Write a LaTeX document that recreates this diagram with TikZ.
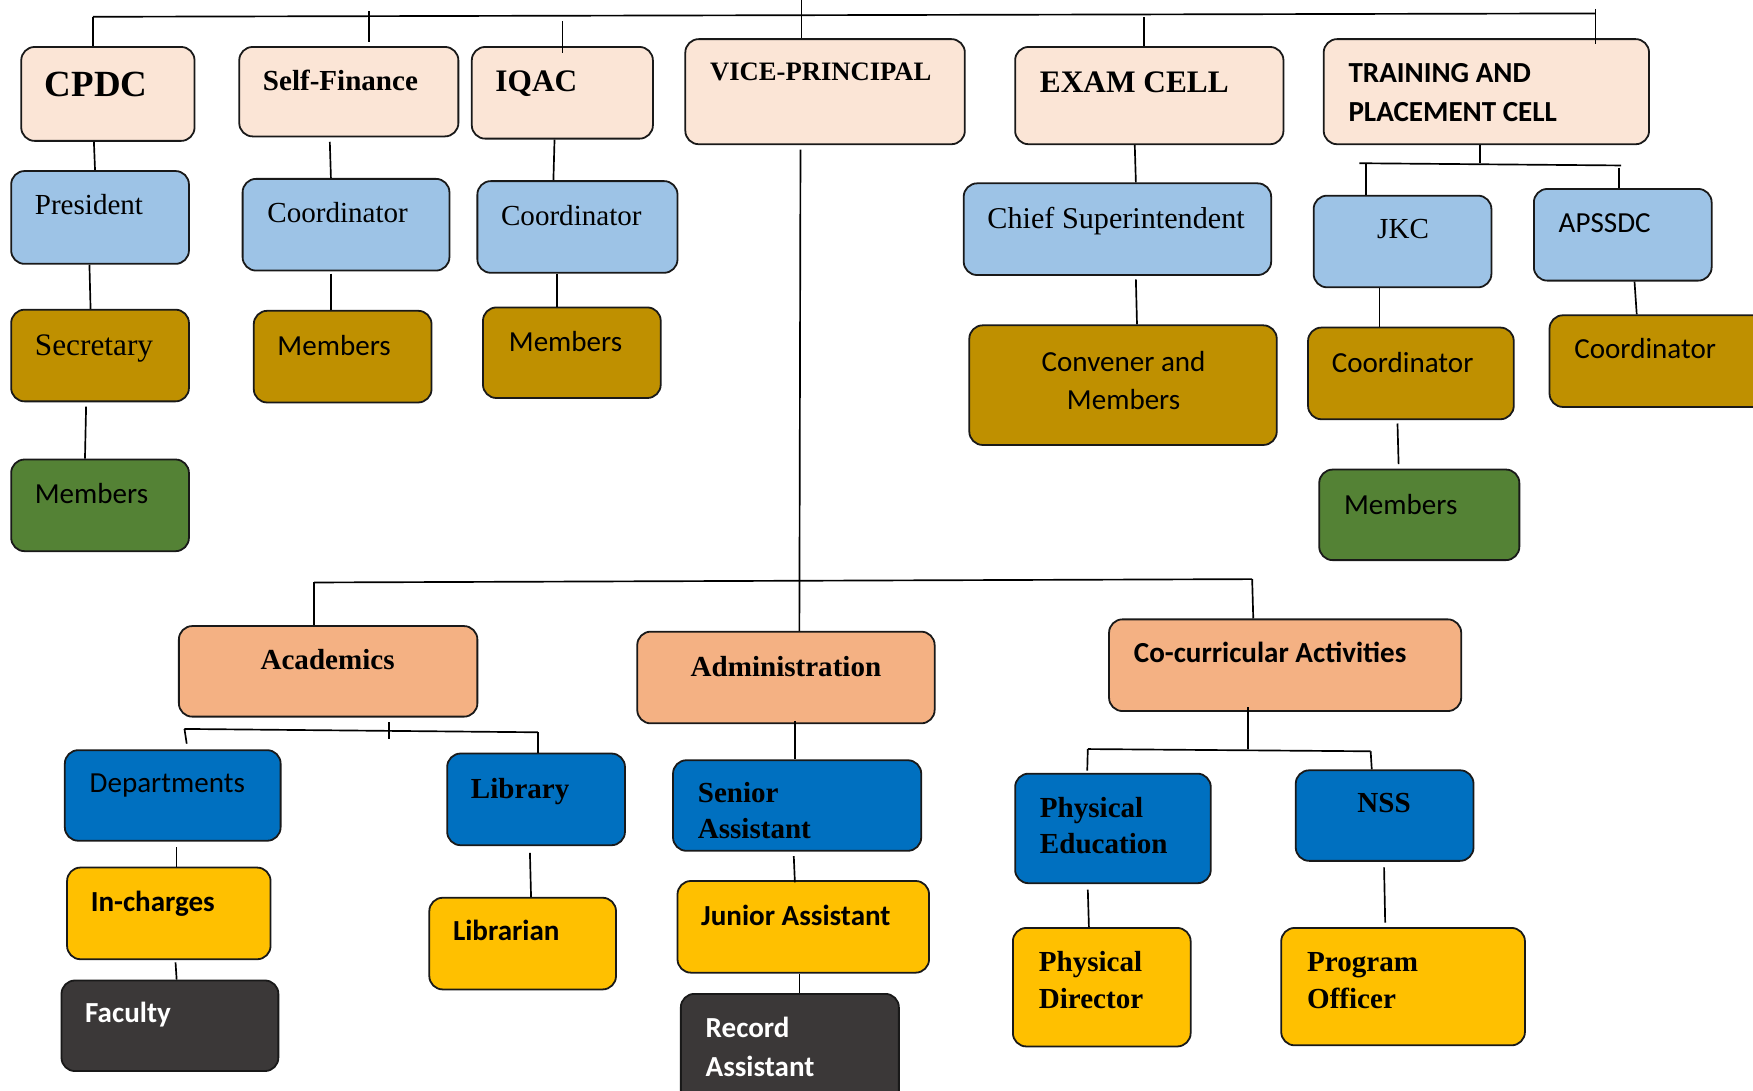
\documentclass[tikz,border=0pt]{standalone}
\usepackage{fontspec}
\setmainfont{Liberation Serif}
\newfontfamily\calfont{Carlito}
\definecolor{peach}{HTML}{FBE5D6}
\definecolor{lblue}{HTML}{9DC3E6}
\definecolor{gold}{HTML}{BF9000}
\definecolor{lgreen}{HTML}{548235}
\definecolor{salmon}{HTML}{F4B183}
\definecolor{dblue}{HTML}{0070C0}
\definecolor{amber}{HTML}{FFC000}
\definecolor{charcoal}{HTML}{3B3838}
\newcommand\mkbox[6]{\node[box, fill=#2, minimum width=#5pt, minimum height=#6pt] (#1) at (#3,#4) {};}
\begin{document}
\begin{tikzpicture}[x=1pt,y=-1pt,
  box/.style={draw=black!90, line width=1.6pt, rounded corners=12pt, inner sep=0pt},
  conn/.style={draw=black, line width=1.5pt},
  tx/.style={anchor=base west, inner sep=0pt},
  sr/.style={tx, font=\fontsize{26}{30}\selectfont},
  sb/.style={tx, font=\bfseries\fontsize{26}{30}\selectfont},
  cr/.style={tx, font=\calfont\fontsize{26}{30}\selectfont},
  cb/.style={tx, font=\calfont\bfseries\fontsize{26}{30}\selectfont},
]
\useasboundingbox (0,0) rectangle (1568,975);
\fill[white] (0,0) rectangle (1568,975);

% ---------- top row ----------
\mkbox{cpdc}{peach}{96.5}{84}{155}{84}
\mkbox{sf}{peach}{312}{82}{196}{80}
\mkbox{iqac}{peach}{503}{83}{162}{82}
\mkbox{vp}{peach}{738}{82}{250}{94}
\mkbox{exam}{peach}{1028}{85.5}{240}{87}
\mkbox{tpc}{peach}{1329.5}{82}{291}{94}

\mkbox{pres}{lblue}{89.5}{194.5}{159}{83}
\mkbox{sec}{gold}{89.5}{318}{159}{82}
\mkbox{cmem}{lgreen}{89.5}{452}{159}{82}
\mkbox{sfc}{lblue}{309.5}{201}{185}{82}
\mkbox{sfm}{gold}{306.5}{319}{159}{82}
\mkbox{iqc}{lblue}{516.5}{203}{179}{82}
\mkbox{iqm}{gold}{511.5}{315.5}{159}{81}
\mkbox{chief}{lblue}{999.5}{205}{275}{82}
\mkbox{conv}{gold}{1004.5}{344.5}{275}{107}
\mkbox{jkc}{lblue}{1254.5}{216}{159}{82}
\mkbox{aps}{lblue}{1451.5}{210}{159}{82}
\mkbox{jkcc}{gold}{1262}{334}{184}{82}
\mkbox{jkcm}{lgreen}{1269.5}{460.5}{179}{81}
\mkbox{apc}{gold}{1488}{323}{204}{82}

% ---------- lower part ----------
\mkbox{acad}{salmon}{293.5}{600.5}{267}{81}
\mkbox{admin}{salmon}{703}{606}{266}{82}
\mkbox{cocur}{salmon}{1149.5}{595}{315}{82}
\mkbox{dept}{dblue}{154.5}{711.5}{193}{81}
\mkbox{inch}{amber}{151}{817}{182}{82}
\mkbox{fac}{charcoal}{152}{917.5}{194}{81}
\mkbox{lib}{dblue}{479.5}{715}{159}{82}
\mkbox{libn}{amber}{467.5}{844}{167}{82}
\mkbox{sen}{dblue}{713}{720.5}{222}{81}
\mkbox{jun}{amber}{718.5}{829}{225}{82}
\mkbox{rec}{charcoal}{706.5}{939.5}{195}{101}
\mkbox{phy}{dblue}{995.5}{741}{175}{98}
\mkbox{nss}{dblue}{1238.5}{729.5}{159}{81}
\mkbox{pdir}{amber}{985.5}{883}{159}{106}
\mkbox{prog}{amber}{1255}{882.5}{218}{105}

% ---------- texts ----------
\node[sb, font=\bfseries\fontsize{33}{38}\selectfont] (t-cpdc) at (40,86) {CPDC};
\node[sb] (t-sf) at (235,81) {Self-Finance};
\node[sb, font=\bfseries\fontsize{28}{32}\selectfont] (t-iqac) at (443,82) {IQAC};
\node[sb, font=\bfseries\fontsize{23.8}{27}\selectfont] (t-vp) at (635,72) {VICE-PRINCIPAL};
\node[sb, font=\bfseries\fontsize{28}{32}\selectfont] (t-exam) at (930,83) {EXAM CELL};
\node[cb, font=\calfont\bfseries\fontsize{26}{30}\selectfont] (t-tpc1) at (1206,74) {TRAINING AND};
\node[cb, font=\calfont\bfseries\fontsize{26}{30}\selectfont] (t-tpc2) at (1206,109) {PLACEMENT CELL};

\node[sr] (t-pres) at (31,192) {President};
\node[sr, font=\fontsize{28}{32}\selectfont] (t-sec) at (31,318) {Secretary};
\node[cr] (t-cmem) at (31,450) {Members};
\node[sr] (t-sfc) at (239,199) {Coordinator};
\node[cr] (t-sfm) at (248,318) {Members};
\node[sr] (t-iqc) at (448,202) {Coordinator};
\node[cr] (t-iqm) at (455,314) {Members};
\node[sr, font=\fontsize{27}{31}\selectfont] (t-chief) at (883,204) {Chief Superintendent};
\node[cr, anchor=base] (t-conv1) at (1005,332) {Convener and};
\node[cr, anchor=base] (t-conv2) at (1005,366) {Members};
\node[sr, anchor=base] (t-jkc) at (1255,213) {JKC};
\node[cr] (t-aps) at (1394,208) {APSSDC};
\node[cr] (t-jkcc) at (1191,333) {Coordinator};
\node[cr] (t-jkcm) at (1202,460) {Members};
\node[cr] (t-apc) at (1408,321) {Coordinator};

\node[sb, anchor=base] (t-acad) at (293,599) {Academics};
\node[sb, anchor=base] (t-admin) at (703,605) {Administration};
\node[cb] (t-cocur) at (1014,593) {Co-curricular Activities};
\node[cr] (t-dept) at (80,709) {Departments};
\node[cb] (t-inch) at (81,815) {In-charges};
\node[cb, text=white] (t-fac) at (76,915) {Faculty};
\node[sb] (t-lib) at (421,714) {Library};
\node[cb] (t-libn) at (405,841) {Librarian};
\node[sb] (t-sen1) at (624,718) {Senior};
\node[sb] (t-sen2) at (624,750) {Assistant};
\node[cb] (t-jun) at (627,828) {Junior Assistant};
\node[cb, text=white] (t-rec1) at (631,928) {Record};
\node[cb, text=white] (t-rec2) at (631,963) {Assistant};
\node[sb] (t-phy1) at (930,731) {Physical};
\node[sb] (t-phy2) at (930,763) {Education};
\node[sb, anchor=base] (t-nss) at (1238,727) {NSS};
\node[sb] (t-pdir1) at (929,869) {Physical};
\node[sb] (t-pdir2) at (929,902) {Director};
\node[sb] (t-prog1) at (1169,869) {Program};
\node[sb] (t-prog2) at (1169,902) {Officer};

% ---------- top bus ----------
\coordinate (busL) at (83,15);
\coordinate (busR) at (1427,12);
\draw[conn] (busL) -- (busR);
\draw[conn] (busL) -- ([xshift=-13.5pt]cpdc.north);
\draw[conn] ([xshift=18pt,yshift=5pt]sf.north |- busL) -- ([xshift=18pt,yshift=4pt]sf.north);
\draw[conn] ([yshift=-4pt]iqac.north |- busL) -- ([yshift=-6pt]iqac.north);
\draw[conn] ([xshift=-21pt]vp.north |- 0,0) -- ([xshift=-21pt]vp.north);
\draw[conn] ([xshift=-5pt]exam.north |- busL) -- ([xshift=-5pt]exam.north);
\draw[conn] ([yshift=4pt]busR) -- ([yshift=-5pt]busR |- tpc.north);

% ---------- CPDC column ----------
\draw[conn] ([xshift=-12.5pt]cpdc.south) -- ([xshift=-4.5pt]pres.north);
\draw[conn] ([xshift=-9.5pt]pres.south) -- ([xshift=-8.5pt]sec.north);
\draw[conn] ([xshift=-12.5pt,yshift=-4pt]sec.south) -- ([xshift=-13.5pt]cmem.north);
% Self-finance / IQAC
\draw[conn] ([xshift=-17pt,yshift=-4pt]sf.south) -- ([xshift=-13.5pt]sfc.north);
\draw[conn] ([xshift=-13.5pt,yshift=-2pt]sfc.south) -- ([xshift=-10.5pt]sfm.north);
\draw[conn] ([xshift=-7pt]iqac.south) -- ([xshift=-21.5pt]iqc.north);
\draw[conn] ([xshift=-18.5pt]iqc.south) -- ([xshift=-13.5pt]iqm.north);
% Exam cell
\draw[conn] ([xshift=-13pt]exam.south) -- ([xshift=16.5pt]chief.north);
\draw[conn] ([xshift=16.5pt,yshift=-3pt]chief.south) -- ([xshift=12.5pt]conv.north);
% Training and placement
\coordinate (tbL) at (1216,146);
\coordinate (tbR) at (1450,148);
\draw[conn] (tbL) -- (tbR);
\draw[conn] ([xshift=-5.5pt]tpc.south) -- ([xshift=-5.5pt]tpc.south |- tbL);
\draw[conn] ([xshift=-32.5pt]jkc.north |- tbL) -- ([xshift=-32.5pt]jkc.north);
\draw[conn] ([xshift=-3.5pt,yshift=-2pt]aps.north |- tbR) -- ([xshift=-3.5pt]aps.north);
\draw[conn] ([xshift=-20.5pt]jkc.south) -- ([xshift=-28pt]jkcc.north);
\draw[conn] ([xshift=-12pt,yshift=-3pt]jkcc.south) -- ([xshift=-18.5pt,yshift=4pt]jkcm.north);
\draw[conn] ([xshift=10.5pt]aps.south) -- ([xshift=-24pt]apc.north);

% ---------- vice-principal ----------
\draw[conn] ([xshift=-22pt,yshift=-4pt]vp.south) -- ([xshift=12pt]admin.north);
\coordinate (mbL) at (281,521);
\coordinate (mbR) at (1120,518);
\draw[conn] (mbL) -- (mbR);
\draw[conn] (mbL) -- (mbL |- acad.north);
\draw[conn] (mbR) -- ([xshift=-28.5pt]cocur.north);

% Academics
\coordinate (abL) at (165,652);
\coordinate (abR) at (481,655);
\draw[conn] (abL) -- (abR);
\draw[conn] ([xshift=54.5pt,yshift=-4pt]acad.south) -- ([xshift=54.5pt,yshift=-19pt]acad.south);
\draw[conn] (abL) -- ([xshift=12.5pt,yshift=5pt]dept.north);
\draw[conn] (abR) -- ([xshift=1.5pt]lib.north);
\draw[conn] ([xshift=3.5pt,yshift=-5pt]dept.south) -- ([xshift=7pt]inch.north);
\draw[conn] ([xshift=6pt,yshift=-2pt]inch.south) -- ([xshift=6pt]fac.north);
\draw[conn] ([xshift=-5.5pt,yshift=-6pt]lib.south) -- ([xshift=7.5pt]libn.north);

% Administration
\draw[conn] ([xshift=8pt,yshift=3pt]admin.south) -- ([xshift=-2pt]sen.north);
\draw[conn] ([xshift=-3pt,yshift=-4pt]sen.south) -- ([xshift=-7.5pt,yshift=-2pt]jun.north);
\draw[conn] ([xshift=-3.5pt]jun.south) -- ([xshift=8.5pt]rec.north);

% Co-curricular
\coordinate (cbL) at (973,670);
\coordinate (cbR) at (1226,672);
\draw[conn] (cbL) -- (cbR);
\draw[conn] ([xshift=-33.5pt,yshift=4pt]cocur.south) -- ([xshift=-33.5pt]cocur.south |- cbL);
\draw[conn] (cbL) -- ([xshift=-23pt,yshift=2pt]phy.north);
\draw[conn] (cbR) -- ([xshift=-11.5pt]nss.north);
\draw[conn] ([xshift=-22.5pt,yshift=-5pt]phy.south) -- ([xshift=-11.5pt]pdir.north);
\draw[conn] ([xshift=-0.5pt,yshift=-5pt]nss.south) -- ([xshift=-16pt,yshift=4pt]prog.north);
\end{tikzpicture}
\end{document}
